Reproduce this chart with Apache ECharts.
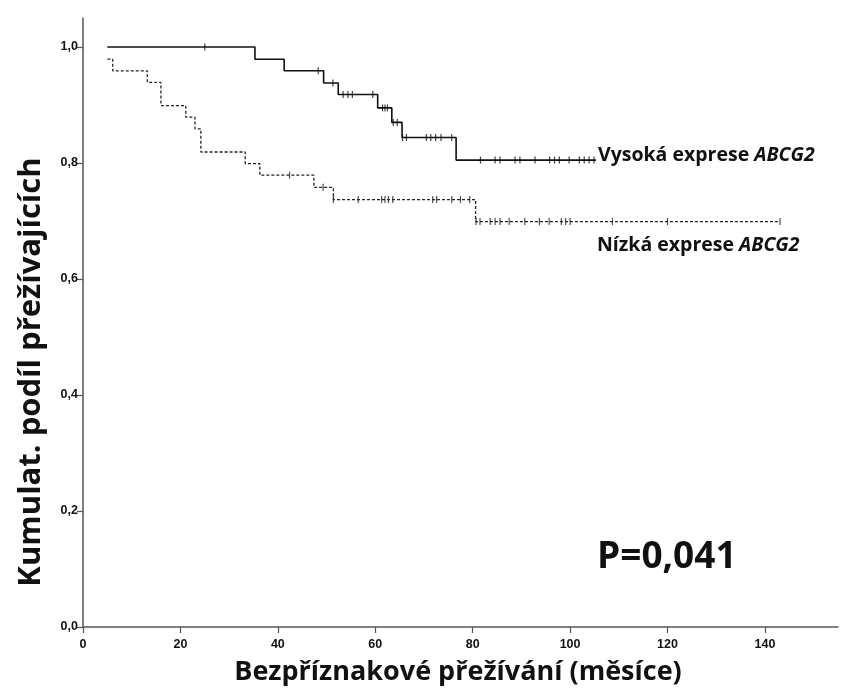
<!DOCTYPE html>
<html>
<head>
<meta charset="utf-8">
<script src="https://cdn.jsdelivr.net/npm/echarts@6/dist/echarts.min.js"></script>
<style>
  html, body { margin: 0; padding: 0; background: #fff; }
  #chart { width: 849px; height: 698px; }
</style>
</head>
<body>
<div id="chart"></div>
<script>
// Kaplan–Meier curves: event times (months) and survival level after each step
const highTimes = [5, 35.3, 41.3, 49.4, 52.4, 60.5, 63.4, 65.5, 76.6, 105.3];
const highSurv  = [1.0, 0.979, 0.959, 0.938, 0.918, 0.895, 0.870, 0.844, 0.805, 0.805];
const highCensored = [25.0, 48.3, 51.3, 53.4, 54.4, 55.3, 59.5, 61.5, 62.0, 62.5, 63.7, 64.5,
  65.6, 66.4, 70.5, 71.4, 72.4, 73.5, 75.7, 81.6, 84.6, 85.6, 88.7, 89.7, 92.8, 95.8, 96.8,
  97.8, 99.8, 101.9, 102.9, 103.9, 104.9];

const lowTimes = [5, 6.1, 13.2, 16.0, 21.1, 23.0, 24.2, 33.3, 36.3, 47.4, 51.4, 80.6, 143.1];
const lowSurv  = [0.979, 0.959, 0.939, 0.899, 0.879, 0.859, 0.819, 0.799, 0.779, 0.758, 0.737, 0.699, 0.699];
const lowCensored = [42.4, 49.3, 51.4, 56.5, 61.3, 62.0, 62.7, 63.6, 71.8, 72.6, 75.7, 77.5, 79.4,
  80.7, 81.5, 83.6, 84.6, 85.6, 87.5, 90.7, 93.7, 95.7, 98.2, 99.1, 100.0, 108.7, 120.0, 143.1];

const xTicks = [0, 20, 40, 60, 80, 100, 120, 140];
const yTicks = [0, 0.2, 0.4, 0.6, 0.8, 1.0];

const xTitle = 'Bezpříznakové přežívání (měsíce)';
const yTitle = 'Kumulat. podíl přežívajících';
const highLabel = 'Vysoká exprese ';
const lowLabel = 'Nízká exprese ';
const geneName = 'ABCG2';
const pText = 'P=0,041';

// survival level in force at time t (step function)
function levelAt(times, surv, t) {
  let v = surv[0];
  for (let i = 0; i < times.length; i++) {
    if (times[i] <= t) v = surv[i];
  }
  return v;
}

const pairs = (xs, ys) => xs.map((x, i) => [x, ys[i]]);
const censorPoints = (c, times, surv) => c.map(t => [t, levelAt(times, surv, t)]);

const chart = echarts.init(document.getElementById('chart'), null, { renderer: 'canvas' });

const axisColor = '#555';
const font = '"Open Sans", "Noto Sans", sans-serif';
const tickFont = '"Liberation Sans", Arial, sans-serif';

chart.setOption({
  animation: false,
  backgroundColor: '#fff',
  grid: { left: 83, right: 11, top: 18, bottom: 71 },
  xAxis: {
    type: 'value', min: 0, max: 155,
    axisLine: { show: true, onZero: false, lineStyle: { color: axisColor, width: 1.5 } },
    axisTick: { show: true, customValues: xTicks, length: 6, lineStyle: { color: axisColor, width: 1.2 } },
    axisLabel: {
      customValues: xTicks, color: '#111', fontFamily: tickFont,
      fontWeight: 'bold', fontSize: 12.5, margin: 11
    },
    splitLine: { show: false }
  },
  yAxis: {
    type: 'value', min: 0, max: 1.05,
    axisLine: { show: true, onZero: false, lineStyle: { color: axisColor, width: 1.5 } },
    axisTick: { show: true, customValues: yTicks, length: 6, lineStyle: { color: axisColor, width: 1.2 } },
    axisLabel: {
      customValues: yTicks, color: '#111', fontFamily: tickFont,
      fontWeight: 'bold', fontSize: 12.5, margin: 5,
      formatter: v => v.toFixed(1).replace('.', ',')
    },
    splitLine: { show: false }
  },
  series: [
    {
      name: 'high', type: 'line', step: 'end', showSymbol: false, symbol: 'none',
      data: pairs(highTimes, highSurv),
      lineStyle: { color: '#111', width: 1.6, type: 'solid' }, z: 3
    },
    {
      name: 'low', type: 'line', step: 'end', showSymbol: false, symbol: 'none',
      data: pairs(lowTimes, lowSurv),
      lineStyle: { color: '#222', width: 1.3, type: [3, 2] }, z: 3
    },
    {
      name: 'high censored', type: 'scatter', symbol: 'rect', symbolSize: [1.2, 7],
      data: censorPoints(highCensored, highTimes, highSurv),
      itemStyle: { color: '#111' }, z: 4
    },
    {
      name: 'low censored', type: 'scatter', symbol: 'rect', symbolSize: [1.2, 7],
      data: censorPoints(lowCensored, lowTimes, lowSurv),
      itemStyle: { color: '#222' }, z: 4
    }
  ],
  graphic: [
    {
      type: 'text', x: 31, y: 372, rotation: Math.PI / 2,
      style: {
        text: yTitle, align: 'center', verticalAlign: 'middle',
        font: 'bold 31px ' + font, fill: '#111'
      }
    },
    {
      type: 'text', x: 458, y: 672,
      style: {
        text: xTitle, align: 'center', verticalAlign: 'middle',
        font: 'bold 27px ' + font, fill: '#111'
      }
    },
    {
      type: 'text', x: 598, y: 155,
      style: {
        text: '{n|' + highLabel + '}{i|' + geneName + '}', verticalAlign: 'middle',
        rich: {
          n: { font: 'bold 19.5px ' + font, fill: '#111' },
          i: { font: 'italic bold 19.5px ' + font, fill: '#111' }
        }
      }
    },
    {
      type: 'text', x: 597, y: 245,
      style: {
        text: '{n|' + lowLabel + '}{i|' + geneName + '}', verticalAlign: 'middle',
        rich: {
          n: { font: 'bold 19.5px ' + font, fill: '#111' },
          i: { font: 'italic bold 19.5px ' + font, fill: '#111' }
        }
      }
    },
    {
      type: 'text', x: 597, y: 557,
      style: { text: pText, verticalAlign: 'middle', font: 'bold 37px ' + font, fill: '#111' }
    }
  ]
});
</script>
</body>
</html>
